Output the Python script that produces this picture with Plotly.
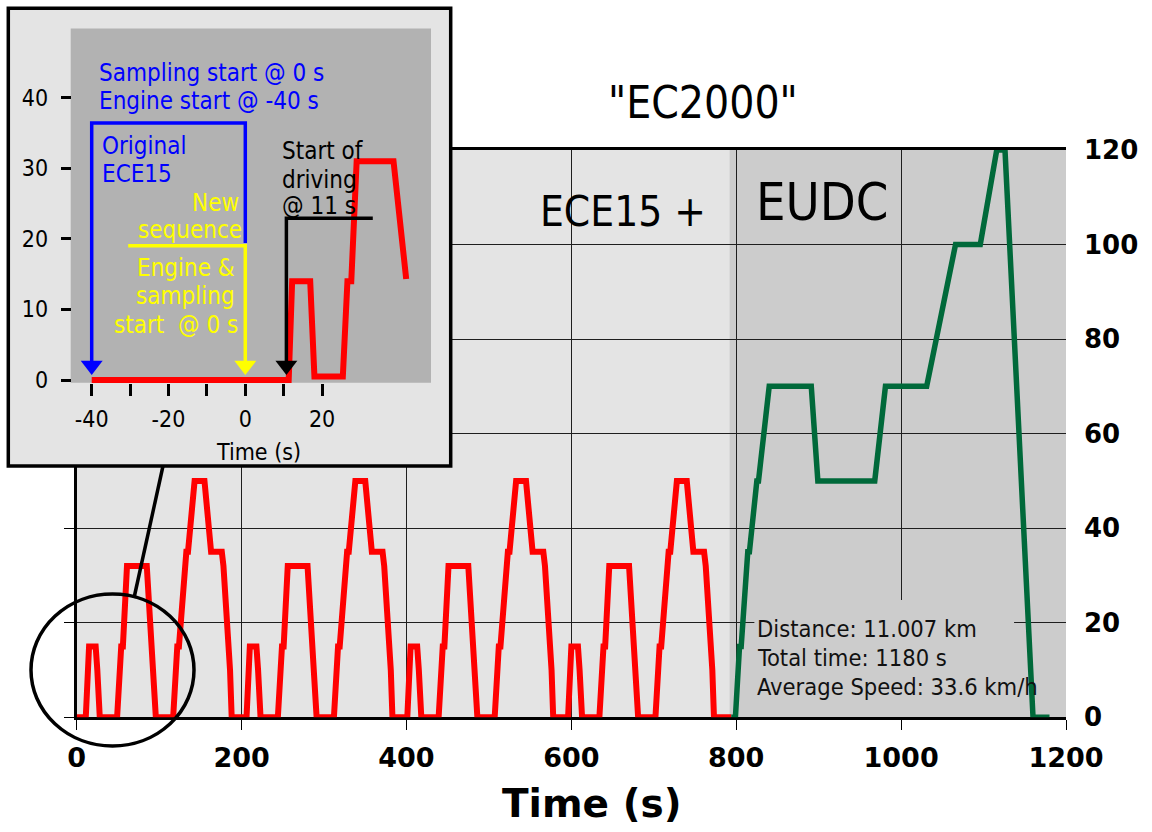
import plotly.graph_objects as go

W, H = 1152, 832

# ------------------------------------------------------------------ data
# one ECE15 (urban) cycle: time (s) / speed (km/h)
ece15_time = [0, 11, 15, 23, 25, 28, 49, 54, 56, 61, 85, 93, 96, 117, 122, 124,
              133, 135, 143, 155, 163, 176, 178, 186, 188, 195]
ece15_speed = [0, 0, 15, 15, 10, 0, 0, 15, 15, 32, 32, 10, 0, 0, 15, 15,
               35, 35, 50, 50, 35, 35, 32, 10, 0, 0]
ece15_repeats = 4
ece15_period = 195
ece15_tail_time = [794]
ece15_tail_speed = [0]

# EUDC (extra-urban) part
eudc_time = [794, 799, 804, 806, 814, 816, 825, 827, 840, 891, 899, 968, 981,
             1031, 1066, 1096, 1116, 1126, 1160, 1180]
eudc_speed = [0, 0, 15, 15, 35, 35, 50, 50, 70, 70, 50, 50, 70,
              70, 100, 100, 120, 120, 0, 0]

# inset: start of the "new sequence"
inset_time = [-40, 11.3, 12.2, 16.9, 18.0, 25.4, 26.6, 27.6, 29.0, 38.6, 41.9]
inset_speed = [0, 0, 14, 14, 0.5, 0.5, 14, 14, 31, 31, 14.3]

x_ticks = [0, 200, 400, 600, 800, 1000, 1200]
x_grid = [200, 400, 600, 800, 1000]
y_ticks = [0, 20, 40, 60, 80, 100, 120]
inset_x_ticks = [-40, -30, -20, -10, 0, 10, 20]
inset_x_ticktext = ["-40", "", "-20", "", "0", "", "20"]
inset_y_ticks = [0, 10, 20, 30, 40]

# bracket / arrow guides of the inset (inset data units)
blue_guide_x = [-40, -40, 0, 0]
blue_guide_y = [2.6, 36.4, 36.4, 19.4]
yellow_guide_x = [-30.5, 0, 0]
yellow_guide_y = [19.0, 19.0, 2.6]
black_guide_x = [33.2, 10.7, 10.7]
black_guide_y = [22.9, 22.9, 2.6]
arrow_x = [-40, 0, 10.7]
arrow_y = [2.05, 2.05, 2.05]
arrow_colors = ["#0000ff", "#ffff00", "#000000"]

# ------------------------------------------------------------------ build series
red_t, red_v = [], []
for k in range(ece15_repeats):
    for t, v in zip(ece15_time, ece15_speed):
        red_t.append(t + k * ece15_period)
        red_v.append(v)
red_t += ece15_tail_time
red_v += ece15_tail_speed

CF = "DejaVu Sans Condensed, DejaVu Sans, sans-serif"
BF = "DejaVu Sans, Verdana, sans-serif"


def px(x):
    return x / W


def py(y):
    return 1 - y / H


fig = go.Figure()

# main chart traces
fig.add_trace(go.Scatter(x=red_t, y=red_v, mode="lines", cliponaxis=False,
                         line=dict(color="#ff0000", width=6), xaxis="x", yaxis="y"))
fig.add_trace(go.Scatter(x=eudc_time, y=eudc_speed, mode="lines", cliponaxis=False,
                         line=dict(color="#00693a", width=5.5), xaxis="x", yaxis="y"))

# inset traces
fig.add_trace(go.Scatter(x=inset_time, y=inset_speed, mode="lines",
                         line=dict(color="#ff0000", width=6), xaxis="x2", yaxis="y2"))
for gx, gy, c in [(blue_guide_x, blue_guide_y, "#0000ff"),
                  (yellow_guide_x, yellow_guide_y, "#ffff00"),
                  (black_guide_x, black_guide_y, "#000000")]:
    fig.add_trace(go.Scatter(x=gx, y=gy, mode="lines", line=dict(color=c, width=3.5),
                             xaxis="x2", yaxis="y2"))
fig.add_trace(go.Scatter(x=arrow_x, y=arrow_y, mode="markers",
                         marker=dict(symbol="triangle-down", size=19, color=arrow_colors,
                                     line=dict(width=0)),
                         xaxis="x2", yaxis="y2"))

# invisible helpers so the right-hand label axis and the vertical grid axis are drawn
fig.add_trace(go.Scatter(x=[0], y=[0], mode="markers", marker=dict(opacity=0),
                         xaxis="x", yaxis="y3"))
fig.add_trace(go.Scatter(x=[0], y=[0], mode="markers", marker=dict(opacity=0),
                         xaxis="x3", yaxis="y"))

# ------------------------------------------------------------------ axes
fig.update_layout(
    width=W, height=H,
    margin=dict(l=0, r=0, t=0, b=0, autoexpand=False),
    paper_bgcolor="white", plot_bgcolor="#e4e4e4",
    showlegend=False, hovermode=False,
    xaxis=dict(domain=[px(76.7), px(1066)], range=[0, 1200], tickvals=x_ticks,
               ticks="outside", ticklen=10, tickwidth=1, tickcolor="black",
               showline=True, linewidth=3, linecolor="black", mirror=True,
               showgrid=False, zeroline=False,
               layer="below traces", ticklabelstandoff=4,
               tickfont=dict(family=BF, size=27, color="black", weight="bold")),
    xaxis3=dict(overlaying="x", range=[0, 1200], tickvals=x_grid, showticklabels=False,
                ticks="", showline=False, zeroline=False,
                showgrid=True, gridcolor="#1e1e1e", gridwidth=1),
    yaxis=dict(domain=[py(717.3), py(150)], range=[0, 120], tickvals=y_ticks,
               ticks="outside", ticklen=10, tickwidth=1, tickcolor="black",
               showticklabels=False, showline=True, linewidth=3, linecolor="black",
               showgrid=True, gridcolor="#1e1e1e", gridwidth=1, zeroline=False,
               layer="below traces"),
    yaxis3=dict(overlaying="y", side="right", range=[0, 120], tickvals=y_ticks,
                showgrid=False, showline=False, zeroline=False, ticks="",
                ticklabelstandoff=17,
                tickfont=dict(family=BF, size=26, color="black", weight="bold")),
    xaxis2=dict(domain=[px(8.3), px(450.7)], range=[-61.72, 53.49], anchor="free",
                position=py(382.7), tickvals=inset_x_ticks, ticktext=inset_x_ticktext,
                ticks="outside", ticklen=12, tickwidth=3, tickcolor="black",
                showgrid=False, zeroline=False, showline=False, ticklabelstandoff=4,
                tickfont=dict(family=CF, size=23, color="black")),
    yaxis2=dict(domain=[py(466), py(8.3)], range=[-12.18, 52.65], anchor="free",
                position=px(70.7), tickvals=inset_y_ticks,
                ticks="outside", ticklen=10, tickwidth=3, tickcolor="black",
                showgrid=False, zeroline=False, showline=False, ticklabelstandoff=8,
                tickfont=dict(family=CF, size=23, color="black")),
)

# ------------------------------------------------------------------ shapes
shapes = [
    # EUDC background
    dict(type="rect", xref="x", yref="y", x0=792, x1=1200, y0=0, y1=120,
         fillcolor="#cccccc", line=dict(width=0), layer="below"),
    # box behind the statistics text
    dict(type="rect", xref="x", yref="y", x0=822, x1=1137, y0=0, y1=24.8,
         fillcolor="#cccccc", line=dict(width=0), layer="between"),
    # inset dark plotting area
    dict(type="rect", xref="x2", yref="y2", x0=-45.47, x1=48.36, y0=-0.38, y1=49.8,
         fillcolor="#b2b2b2", line=dict(width=0), layer="below"),
    # inset frame
    dict(type="rect", xref="paper", yref="paper", x0=px(8.3), x1=px(450.7),
         y0=py(466), y1=py(8.3), line=dict(color="black", width=3.5),
         fillcolor="rgba(0,0,0,0)", layer="above"),
    # callout circle and connector
    dict(type="circle", xref="paper", yref="paper", x0=px(31), x1=px(194),
         y0=py(746), y1=py(594), line=dict(color="black", width=3.5), layer="above"),
    dict(type="line", xref="paper", yref="paper", x0=px(163), y0=py(466),
         x1=px(134), y1=py(598), line=dict(color="black", width=3.5), layer="above"),
]
fig.update_layout(shapes=shapes)

# ------------------------------------------------------------------ texts
texts = [
    # (text, x_px, y_px, xanchor, color, size, family, bold)
    ('"EC2000"', 703.3, 102.5, "center", "black", 44, CF, False),
    ("ECE15 +", 622.5, 211.7, "center", "black", 42, CF, False),
    ("EUDC", 822.5, 201.7, "center", "black", 52, CF, False),
    ("Time (s)", 591.5, 803.0, "center", "black", 39, BF, True),
    ("Distance: 11.007 km", 755, 629.2, "left", "#111111", 23.5, CF, False),
    ("Total time: 1180 s", 755, 658.0, "left", "#111111", 23.5, CF, False),
    ("Average Speed: 33.6 km/h", 755, 686.7, "left", "#111111", 23.5, CF, False),
    ("Sampling start @ 0 s", 96.7, 72.5, "left", "#0000ff", 24, CF, False),
    ("Engine start @ -40 s", 96.7, 101.2, "left", "#0000ff", 24, CF, False),
    ("Original", 99.5, 145.8, "left", "#0000ff", 24, CF, False),
    ("ECE15", 99.5, 173.8, "left", "#0000ff", 24, CF, False),
    ("New", 240.5, 202.5, "right", "#ffff00", 24, CF, False),
    ("sequence", 243.5, 229.7, "right", "#ffff00", 24, CF, False),
    ("Engine &", 236.5, 268.3, "right", "#ffff00", 24, CF, False),
    ("sampling", 236.5, 296.4, "right", "#ffff00", 24, CF, False),
    ("start  @ 0 s", 239.5, 324.7, "right", "#ffff00", 24, CF, False),
    ("Start of", 279.5, 150.8, "left", "black", 24, CF, False),
    ("driving", 279.5, 179.7, "left", "black", 24, CF, False),
    ("@ 11 s", 279.5, 206.4, "left", "black", 24, CF, False),
    ("Time (s)", 258.5, 452.0, "center", "black", 23, CF, False),
]
annotations = []
for txt, x, y, xa, col, size, fam, bold in texts:
    annotations.append(dict(text=txt, x=px(x), y=py(y), xref="paper", yref="paper",
                            xanchor=xa, yanchor="middle", showarrow=False,
                            font=dict(family=fam, size=size, color=col,
                                      weight="bold" if bold else "normal")))
fig.update_layout(annotations=annotations)

fig.write_html("out.html", config={"displayModeBar": False},
               post_script="document.body.style.margin='0px';")
